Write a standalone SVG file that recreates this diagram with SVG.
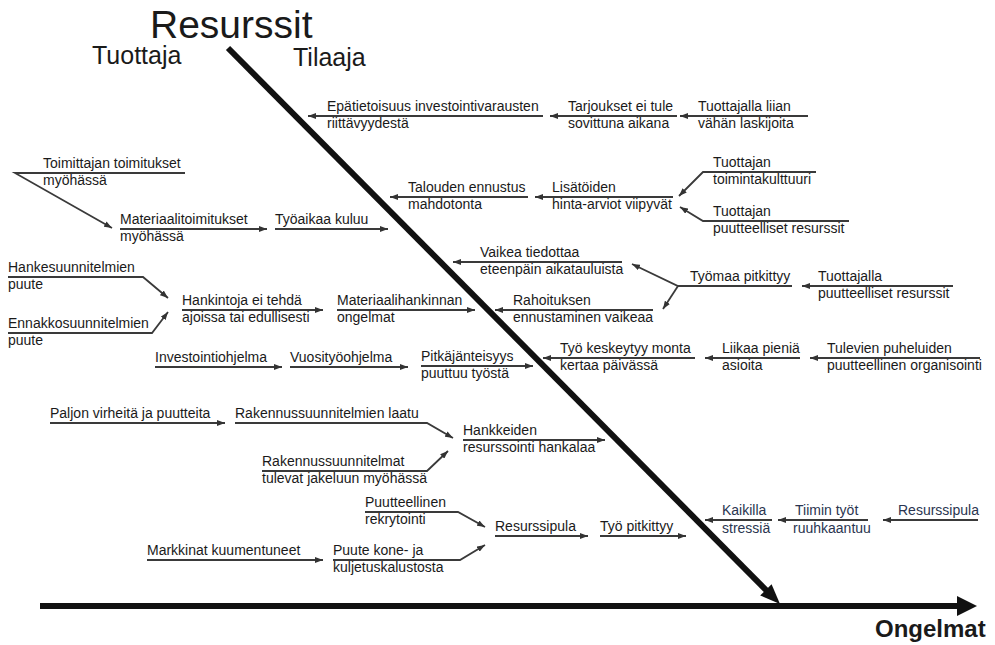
<svg xmlns="http://www.w3.org/2000/svg" width="995" height="645" viewBox="0 0 995 645">
<style>
.t{font-family:"Liberation Sans",Arial,sans-serif;font-size:14px;fill:#1a1a1a}
.a{font-family:"Liberation Sans",Arial,sans-serif;font-size:14px;fill:#2a3550}
.h{font-family:"Liberation Sans",Arial,sans-serif;fill:#1a1a1a}
.c{fill:none;stroke:#3a3a3a;stroke-width:1.8;marker-end:url(#ah)}
.ax{fill:none;stroke:#111;stroke-width:6}
</style>
<defs>
<marker id="ah" viewBox="0 0 8 6" refX="8" refY="3" markerWidth="8" markerHeight="6" orient="auto" markerUnits="userSpaceOnUse"><path d="M0,0 L8,3 L0,6 z" fill="#333"/></marker>
</defs>
<rect width="995" height="645" fill="#fff"/>
<g id="axes">
<line class="ax" x1="228" y1="48" x2="768" y2="592"/>
<polygon points="780,604 760.2,595.4 771.6,584.2" fill="#111"/>
<line class="ax" x1="40" y1="606" x2="959" y2="606"/>
<polygon points="977,606 957,596 957,616" fill="#111"/>
</g>
<g id="headings">
<text class="h" x="150" y="38" font-size="39">Resurssit</text>
<text class="h" x="92" y="64" font-size="25">Tuottaja</text>
<text class="h" x="293" y="66" font-size="25">Tilaaja</text>
<text class="h" x="875" y="637" font-size="24" font-weight="bold">Ongelmat</text>
</g>
<g id="connectors">
<path class="c" d="M543,116 L308,116"/>
<path class="c" d="M677,116 L550,116"/>
<path class="c" d="M808,116 L680,116"/>
<path class="c" d="M528,197 L390,197"/>
<path class="c" d="M673,197 L535,197"/>
<path class="c" d="M816,172 L703,172 L679,196"/>
<path class="c" d="M849,221 L703,221 L680,207"/>
<path class="c" d="M185,173 L15,173 L112,228"/>
<path class="c" d="M120,229 L267,229"/>
<path class="c" d="M275,229 L388,229"/>
<path class="c" d="M622,262 L453,262"/>
<path class="c" d="M792,286 L678,286 L632,264"/>
<path class="c" d="M678,286 L663,309"/>
<path class="c" d="M953,286 L802,286"/>
<path class="c" d="M653,310 L495,310"/>
<path class="c" d="M8,277 L143,277 L168,298"/>
<path class="c" d="M8,333 L152,333 L168,312"/>
<path class="c" d="M182,310 L323,310"/>
<path class="c" d="M337,310 L475,310"/>
<path class="c" d="M695,358 L543,358"/>
<path class="c" d="M800,358 L705,358"/>
<path class="c" d="M980,358 L810,358"/>
<path class="c" d="M155,367 L282,367"/>
<path class="c" d="M290,367 L408,367"/>
<path class="c" d="M421,366 L533,366"/>
<path class="c" d="M50,423 L225,423"/>
<path class="c" d="M235,423 L427,423 L453,438"/>
<path class="c" d="M262,471 L427,471 L448,451"/>
<path class="c" d="M463,440 L605,440"/>
<path class="c" d="M365,512 L458,512 L485,527"/>
<path class="c" d="M147,560 L323,560"/>
<path class="c" d="M333,560 L460,560 L485,545"/>
<path class="c" d="M495,536 L588,536"/>
<path class="c" d="M600,536 L686,536"/>
<path class="c" d="M772,520 L705,520"/>
<path class="c" d="M868,520 L778,520"/>
<path class="c" d="M978,520 L883,520"/>
</g>
<g id="n1"><text class="t" x="327" y="111">Epätietoisuus investointivarausten</text><text class="t" x="327" y="128">riittävyydestä</text></g>
<g id="n2"><text class="t" x="568" y="111">Tarjoukset ei tule</text><text class="t" x="568" y="128">sovittuna aikana</text></g>
<g id="n3"><text class="t" x="698" y="111">Tuottajalla liian</text><text class="t" x="698" y="128">vähän laskijoita</text></g>
<g id="n4"><text class="t" x="408" y="192">Talouden ennustus</text><text class="t" x="408" y="209">mahdotonta</text></g>
<g id="n5"><text class="t" x="552" y="192">Lisätöiden</text><text class="t" x="552" y="209">hinta-arviot viipyvät</text></g>
<g id="n6"><text class="t" x="713" y="167">Tuottajan</text><text class="t" x="713" y="184">toimintakulttuuri</text></g>
<g id="n7"><text class="t" x="713" y="216">Tuottajan</text><text class="t" x="713" y="233">puutteelliset resurssit</text></g>
<g id="n8"><text class="t" x="43" y="168">Toimittajan toimitukset</text><text class="t" x="43" y="185">myöhässä</text></g>
<g id="n9"><text class="t" x="120" y="224">Materiaalitoimitukset</text><text class="t" x="120" y="241">myöhässä</text></g>
<g id="n10"><text class="t" x="275" y="224">Työaikaa kuluu</text></g>
<g id="n11"><text class="t" x="480" y="257">Vaikea tiedottaa</text><text class="t" x="480" y="274">eteenpäin aikatauluista</text></g>
<g id="n12"><text class="t" x="690" y="281">Työmaa pitkittyy</text></g>
<g id="n13"><text class="t" x="818" y="281">Tuottajalla</text><text class="t" x="818" y="298">puutteelliset resurssit</text></g>
<g id="n14"><text class="t" x="513" y="305">Rahoituksen</text><text class="t" x="513" y="322">ennustaminen vaikeaa</text></g>
<g id="n15"><text class="t" x="8" y="272">Hankesuunnitelmien</text><text class="t" x="8" y="289">puute</text></g>
<g id="n16"><text class="t" x="8" y="328">Ennakkosuunnitelmien</text><text class="t" x="8" y="345">puute</text></g>
<g id="n17"><text class="t" x="182" y="305">Hankintoja ei tehdä</text><text class="t" x="182" y="322">ajoissa tai edullisesti</text></g>
<g id="n18"><text class="t" x="337" y="305">Materiaalihankinnan</text><text class="t" x="337" y="322">ongelmat</text></g>
<g id="n19"><text class="t" x="560" y="353">Työ keskeytyy monta</text><text class="t" x="560" y="370">kertaa päivässä</text></g>
<g id="n20"><text class="t" x="722" y="353">Liikaa pieniä</text><text class="t" x="722" y="370">asioita</text></g>
<g id="n21"><text class="t" x="827" y="353">Tulevien puheluiden</text><text class="t" x="827" y="370">puutteellinen organisointi</text></g>
<g id="n22"><text class="t" x="155" y="362">Investointiohjelma</text></g>
<g id="n23"><text class="t" x="290" y="362">Vuosityöohjelma</text></g>
<g id="n24"><text class="t" x="421" y="361">Pitkäjänteisyys</text><text class="t" x="421" y="378">puuttuu työstä</text></g>
<g id="n25"><text class="t" x="50" y="418">Paljon virheitä ja puutteita</text></g>
<g id="n26"><text class="t" x="235" y="418">Rakennussuunnitelmien laatu</text></g>
<g id="n27"><text class="t" x="262" y="466">Rakennussuunnitelmat</text><text class="t" x="262" y="483">tulevat jakeluun myöhässä</text></g>
<g id="n28"><text class="t" x="463" y="435">Hankkeiden</text><text class="t" x="463" y="452">resurssointi hankalaa</text></g>
<g id="n29"><text class="t" x="365" y="507">Puutteellinen</text><text class="t" x="365" y="524">rekrytointi</text></g>
<g id="n30"><text class="t" x="147" y="555">Markkinat kuumentuneet</text></g>
<g id="n31"><text class="t" x="333" y="555">Puute kone- ja</text><text class="t" x="333" y="572">kuljetuskalustosta</text></g>
<g id="n32"><text class="t" x="495" y="531">Resurssipula</text></g>
<g id="n33"><text class="t" x="600" y="531">Työ pitkittyy</text></g>
<g id="n34"><text class="a" x="722" y="515">Kaikilla</text><text class="a" x="722" y="533">stressiä</text></g>
<g id="n35"><text class="a" x="795" y="515">Tiimin työt</text><text class="a" x="793" y="533">ruuhkaantuu</text></g>
<g id="n36"><text class="a" x="898" y="515">Resurssipula</text></g>
</svg>
